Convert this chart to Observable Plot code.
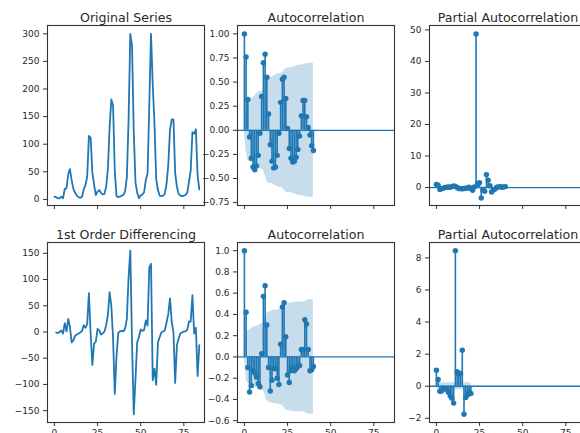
<!DOCTYPE html>
<html><head><meta charset="utf-8">
<script src="https://cdn.jsdelivr.net/npm/d3@7"></script>
<script src="https://cdn.jsdelivr.net/npm/@observablehq/plot@0.6"></script>
<style>
html,body{margin:0;padding:0;background:#fff;}
#root{position:relative;width:580px;height:433px;overflow:hidden;background:#fff;}
#root svg{max-width:none !important;}
</style></head><body><div id="root"></div>
<script>
// ---- data ----
const original = [5,4,2,2,5,2,19,20,45,55,35,19,12,7,4,3,5,18,26,41,115,112,49,27,8,14,17,12,9,10,23,55,131,181,170,52,6,4,5,7,8,15,40,145,300,278,121,31,12,2,7,9,13,35,47,170,300,208,138,37,17,7,6,7,10,28,62,126,145,145,48,23,10,7,6,7,8,12,32,52,122,119,127,43,18];
const diff1 = [-1,-2,0,3,-3,17,1,25,10,-20,-16,-7,-5,-3,-1,2,13,8,15,74,-3,-63,-22,-19,6,3,-5,-3,1,13,32,76,50,-11,-118,-46,-2,1,2,1,7,25,105,155,-22,-157,-90,-19,-10,5,2,4,22,12,123,130,-92,-70,-101,-20,-10,-1,1,3,18,34,64,19,0,-97,-25,-13,-3,-1,1,1,4,20,20,70,-3,8,-84,-25];
const acfOrig = [1.00,0.76,0.32,-0.07,-0.29,-0.38,-0.41,-0.37,-0.26,-0.03,0.35,0.70,0.79,0.55,0.17,-0.15,-0.32,-0.39,-0.38,-0.26,-0.03,0.29,0.53,0.55,0.33,0.02,-0.19,-0.29,-0.33,-0.32,-0.28,-0.20,-0.06,0.15,0.31,0.31,0.14,0.03,-0.05,-0.16,-0.21];
const acfOrigBand = [0,0.213,0.312,0.327,0.327,0.339,0.357,0.378,0.394,0.402,0.402,0.415,0.466,0.523,0.548,0.551,0.553,0.561,0.573,0.584,0.590,0.590,0.596,0.617,0.639,0.646,0.646,0.649,0.655,0.662,0.669,0.674,0.677,0.677,0.679,0.685,0.692,0.693,0.695,0.695,0.696];
const pacfOrig = [1.0,0.76,-0.65,-0.35,-0.2,0.05,0.1,0.15,0.1,0.3,0.5,0.35,0.0,-0.3,-0.35,-0.4,-0.3,-0.2,-0.15,0.1,-0.3,-0.9,0.2,48.7,1.3,1.5,-3.3,-0.9,-1.2,4.1,2.3,0.6,-1.4,-0.8,-0.5,0.1,0.2,0.3,0.1,0.2,0.3];
const pacfOrigBand = [0,0.213,0.213,0.213,0.213,0.213,0.213,0.213,0.213,0.213,0.213,0.213,0.213,0.213,0.213,0.213,0.213,0.213,0.213,0.213,0.213,0.213,0.213,0.213,0.213,0.213,0.213,0.213,0.213,0.213,0.213,0.213,0.213,0.213,0.213,0.213,0.213,0.213,0.213,0.213,0.213];
const acfDiff = [1.0,0.42,-0.10,-0.33,-0.27,-0.13,-0.15,-0.19,-0.25,-0.28,0.03,0.57,0.67,0.30,-0.10,-0.32,-0.22,-0.11,-0.11,-0.20,-0.26,0.12,0.47,0.51,0.19,-0.17,-0.24,-0.13,-0.10,-0.13,-0.11,-0.09,-0.08,0.07,0.07,0.35,0.31,0.07,-0.13,-0.12,-0.09];
const acfDiffBand = [0,0.214,0.249,0.251,0.270,0.282,0.285,0.288,0.294,0.303,0.315,0.315,0.359,0.412,0.422,0.423,0.434,0.439,0.441,0.442,0.446,0.453,0.454,0.476,0.500,0.504,0.506,0.511,0.513,0.514,0.515,0.516,0.517,0.517,0.518,0.518,0.529,0.538,0.538,0.539,0.540];
const pacfDiff = [1.0,0.42,-0.31,-0.3,-0.12,-0.15,-0.22,-0.38,-0.6,-0.75,-1.05,8.45,0.9,0.75,0.8,2.25,-1.75,-0.7,-0.55,-0.35,-0.45];
const pacfDiffBand = [0,0.214,0.214,0.214,0.214,0.214,0.214,0.214,0.214,0.214,0.214,0.214,0.214,0.214,0.214,0.214,0.214,0.214,0.214,0.214,0.214];

const titles = ["Original Series","Autocorrelation","Partial Autocorrelation","1st Order Differencing","Autocorrelation","Partial Autocorrelation"];
const xTicks = [0,25,50,75];
const yTicksOrig = [0,50,100,150,200,250,300];
const yTicksAcfOrig = [-0.75,-0.5,-0.25,0,0.25,0.5,0.75,1.0];
const yTicksPacfOrig = [0,10,20,30,40,50];
const yTicksDiff = [-150,-100,-50,0,50,100,150];
const yTicksAcfDiff = [-0.6,-0.4,-0.2,0,0.2,0.4,0.6,0.8,1.0];
const yTicksPacfDiff = [-2,0,2,4,6,8];

// ---- drawing ----
const C0 = "#1f77b4";
const root = document.getElementById("root");
const xDomain = [-4, 87];
const colLeft = [47, 237, 429];
const rowTop = [25, 242];
const FW = 157, FH = 180;

function lagTable(vals, band){ return vals.map((v,i)=>({lag:i, v, w: band[i]})); }

function corrMarks(tbl){
  return [
    Plot.ruleX(tbl, {x:"lag", y1:0, y2:"v", stroke:C0, strokeWidth:1.6}),
    Plot.ruleY([0], {stroke:C0, strokeWidth:1.3}),
    Plot.dot(tbl, {x:"lag", y:"v", r:2.7, fill:C0, stroke:null}),
    Plot.areaY(tbl, {x:"lag", y1:d=>-d.w, y2:"w", fill:C0, fillOpacity:0.25})
  ];
}

function panel(col,row,title,yDomain,yTicks,yFmt,marks){
  const ML=50, MR=8, MT=24, MB=24;
  const W = ML+FW+MR, H = MT+FH+MB;
  const svg = Plot.plot({
    width: W, height: H,
    marginLeft: ML, marginRight: MR, marginTop: MT, marginBottom: MB,
    x: {domain: xDomain, axis: null},
    y: {domain: yDomain, axis: null},
    style: {fontFamily: "DejaVu Sans", fontSize: "9px", color: "#2a2a2a", background: "transparent", overflow: "visible"},
    marks: [
      ...marks,
      Plot.frame({stroke:"#333", strokeWidth:1.1}),
      Plot.axisY(yTicks, {tickSize:4, tickPadding:4, tickFormat:yFmt, label:null, stroke:"#333", fill:"#2a2a2a"}),
      Plot.axisX(xTicks, {tickSize:4, tickPadding:3.5, tickFormat: row===1 ? d3.format("d") : ()=>"", label:null, stroke:"#333", fill:"#2a2a2a"}),
      Plot.text([title], {text:d=>d, frameAnchor:"top", dy:-4, lineAnchor:"bottom", fontSize:12.6, fill:"#2a2a2a"})
    ]
  });
  svg.style.position = "absolute";
  svg.style.width = W+"px";
  svg.style.height = H+"px";
  svg.style.maxWidth = "none";
  svg.style.left = (colLeft[col]-ML)+"px";
  svg.style.top = (rowTop[row]-MT)+"px";
  root.appendChild(svg);
}

const fInt = d3.format("d"), f2 = d3.format(".2f"), f1 = d3.format(".1f");

panel(0,0,titles[0],[-11,315],yTicksOrig,fInt,[Plot.lineY(original,{stroke:C0, strokeWidth:1.8})]);
panel(1,0,titles[1],[-0.78,1.087],yTicksAcfOrig,f2,corrMarks(lagTable(acfOrig,acfOrigBand)));
panel(2,0,titles[2],[-5.7,51.4],yTicksPacfOrig,fInt,corrMarks(lagTable(pacfOrig,pacfOrigBand)));
panel(0,1,titles[3],[-172.6,170.6],yTicksDiff,fInt,[Plot.lineY(diff1,{x:(d,i)=>i+1, y:d=>d, stroke:C0, strokeWidth:1.8})]);
panel(1,1,titles[4],[-0.617,1.077],yTicksAcfDiff,f1,corrMarks(lagTable(acfDiff,acfDiffBand)));
panel(2,1,titles[5],[-2.26,8.96],yTicksPacfDiff,fInt,corrMarks(lagTable(pacfDiff,pacfDiffBand)));
</script></body></html>
